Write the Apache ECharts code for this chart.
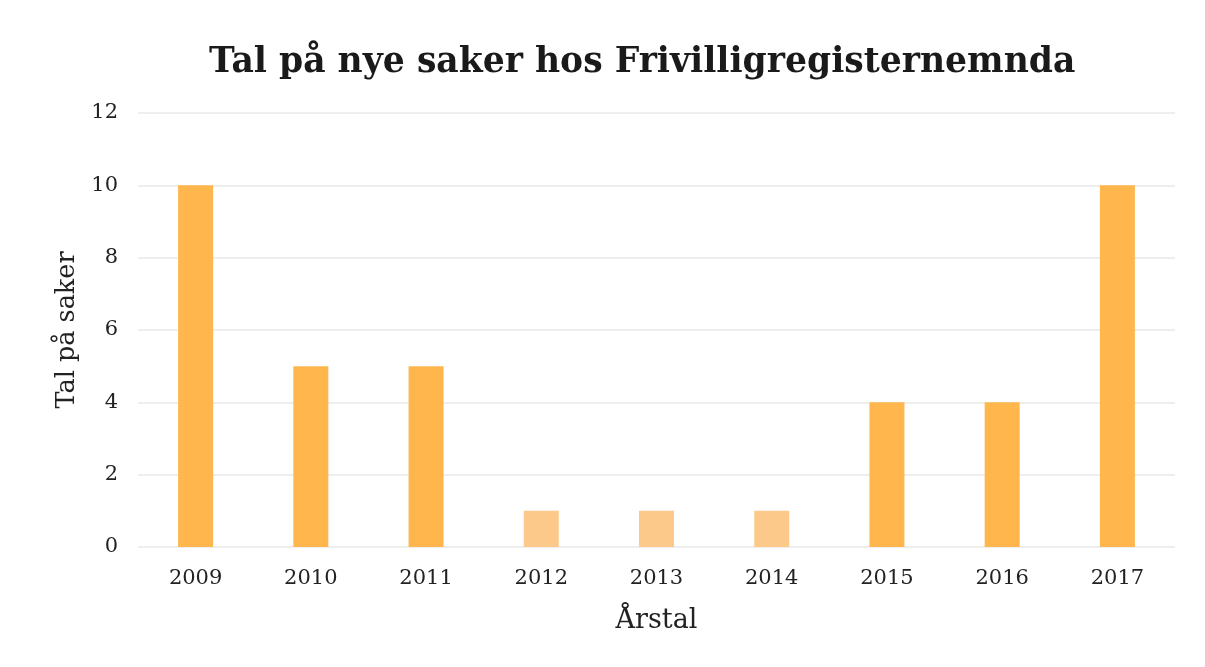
<!DOCTYPE html>
<html>
<head>
<meta charset="utf-8">
<script src="https://cdn.jsdelivr.net/npm/echarts@6/dist/echarts.min.js"></script>
<style>
  html, body { margin: 0; padding: 0; background: #fff; }
  #chart { width: 1205px; height: 667px; }
</style>
</head>
<body>
<div id="chart"></div>
<script>
const years = ['2009', '2010', '2011', '2012', '2013', '2014', '2015', '2016', '2017'];
const cases = [10, 5, 5, 1, 1, 1, 4, 4, 10];

const serif = '"DejaVu Serif", "Liberation Serif", serif';
const chart = echarts.init(document.getElementById('chart'));

chart.setOption({
  backgroundColor: '#ffffff',
  title: {
    text: 'Tal på nye saker hos Frivilligregisternemnda',
    left: 204,
    top: 41,
    textStyle: { fontFamily: serif, fontWeight: 'bold', fontSize: 34.6, color: '#1a1a1a' }
  },
  grid: { left: 138, right: 30, top: 113, bottom: 120 },
  xAxis: {
    type: 'category',
    data: years,
    name: 'Årstal',
    nameLocation: 'middle',
    nameGap: 60,
    nameTextStyle: { fontFamily: serif, fontSize: 27, color: '#222' },
    axisLine: { show: false },
    axisTick: { show: false },
    axisLabel: { fontFamily: serif, fontSize: 21, color: '#222', margin: 21 }
  },
  yAxis: {
    type: 'value',
    min: 0,
    max: 12,
    interval: 2,
    name: 'Tal på saker',
    nameLocation: 'middle',
    nameGap: 56,
    nameTextStyle: { fontFamily: serif, fontSize: 25.5, color: '#222' },
    axisLabel: { fontFamily: serif, fontSize: 21, color: '#222', margin: 20 },
    splitLine: { lineStyle: { color: '#e8e8e8', width: 1.5 } }
  },
  series: [{
    type: 'bar',
    data: cases,
    barWidth: 35,
    itemStyle: {
      color: p => (p.value <= 1 ? '#fdc98a' : '#ffb74d')
    }
  }]
});
</script>
</body>
</html>
